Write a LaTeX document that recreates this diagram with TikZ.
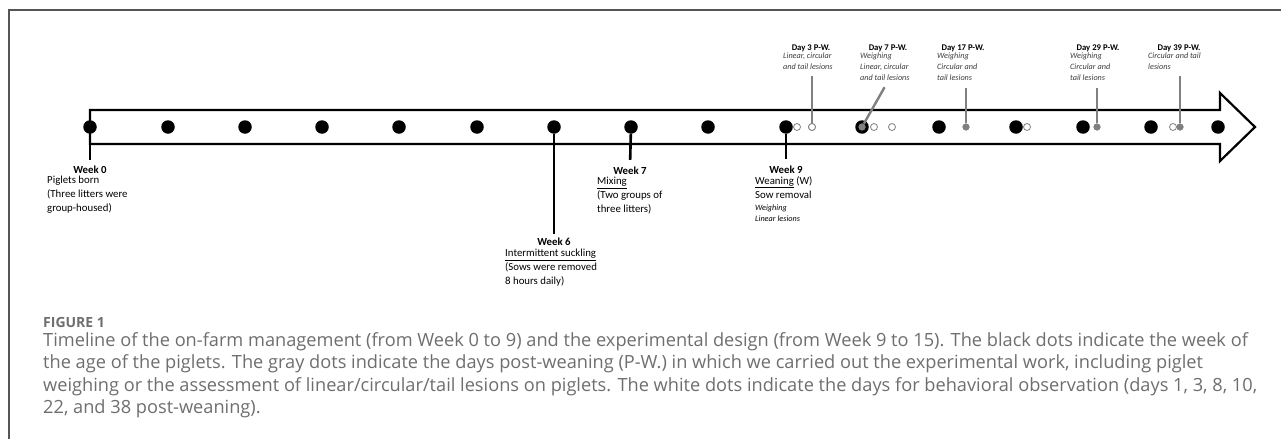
\documentclass[tikz,border=0pt]{standalone}
\usepackage{fontspec}
\setmainfont{Carlito}
\newfontfamily\capfont{Open Sans}
\usetikzlibrary{positioning, calc}
\definecolor{framegray}{RGB}{85,85,85}
\definecolor{dotgray}{RGB}{128,128,128}
\definecolor{captext}{RGB}{110,110,110}
\definecolor{daytext}{RGB}{60,60,60}
\tikzset{
    blackdot/.style={circle, fill=black, inner sep=0pt, minimum size=13.5pt},
    graydot/.style={circle, fill=dotgray, inner sep=0pt, minimum size=7pt},
    whitedot/.style={circle, draw=dotgray, fill=white, line width=0.8pt, inner sep=0pt, minimum size=7pt},
    arrowbody/.style={draw=black, line width=2.2pt, fill=white, line join=miter},
    weektick/.style={black, line width=2.6pt},
    daytick/.style={dotgray, line width=2.4pt},
    weektitle/.style={font=\fontsize{10.8}{14}\selectfont\bfseries, inner sep=1pt},
    weektext/.style={font=\fontsize{10.8}{14}\selectfont, align=left, inner sep=0pt, anchor=north west},
    daytitle/.style={font=\fontsize{8.7}{11}\selectfont\bfseries, inner sep=1pt},
    daytext/.style={font=\fontsize{8.2}{11}\selectfont\itshape, align=left, inner sep=0pt, anchor=north west, text=daytext}
}
\begin{document}
\begin{tikzpicture}[x=1pt, y=-1pt]
    \useasboundingbox (0,0) rectangle (1281,439);
    % Frame
    \draw[framegray, line width=1.5pt] (9,439) -- (9,10) -- (1281,10);

    % Timeline arrow
    \draw[arrowbody] (90,110) -- (1220,110) -- (1220,93) -- (1255,127) -- (1220,161) -- (1220,144) -- (90,144) -- cycle;

    % Week dots
    \foreach \x [count=\i from 0] in {90,168,245,322,399,477,554,631,708,786,862,939,1016,1083,1151,1218}
        \node[blackdot] (w\i) at (\x,127) {};

    % Days for behavioural observation
    \node[whitedot] (o1) at (797,127) {};
    \node[whitedot] (o3) at (812,127) {};
    \node[whitedot] (o8) at (874,127) {};
    \node[whitedot] (o10) at (892,127) {};
    \node[whitedot] (o22) at (1027,127) {};
    \node[whitedot] (o38) at (1173,127) {};

    % Days of experimental work
    \node[graydot] (g7) at (w10) {};
    \node[graydot] (g17) at (966,127) {};
    \node[graydot] (g29) at (1097,127) {};
    \node[graydot] (g39) at (1180,127) {};

    % Week labels
    \node[weektitle] (t0) at (90,170) {Week 0};
    \node[weektext] (b0) at (47,176) {Piglets born\\(Three litters were\\group-housed)};

    \node[weektitle] (t6) at (554,242) {Week 6};
    \node[weektext] (b6) at (505,249) {\underline{Intermittent suckling}\\(Sows were removed\\8 hours daily)};

    \node[weektitle] (t7) at (630,171) {Week 7};
    \node[weektext] (b7) at (597,177) {\underline{Mixing}\\(Two groups of\\three litters)};

    \node[weektitle] (t9) at (786,170) {Week 9};
    \node[weektext] (b9) at (755,176) {\underline{Weaning} (W)\\Sow removal};
    \node[daytext, text=black] (i9) at (755,205) {Weighing\\Linear lesions};

    % Day labels
    \node[daytitle] (d3t) at (811,48) {Day 3 P-W.};
    \node[daytext] (d3b) at (783,53) {Linear, circular\\and tail lesions};

    \node[daytitle] (d7t) at (888,48) {Day 7 P-W.};
    \node[daytext] (d7b) at (860,53) {Weighing\\Linear, circular\\and tail lesions};

    \node[daytitle] (d17t) at (963,48) {Day 17 P-W.};
    \node[daytext] (d17b) at (937,53) {Weighing\\Circular and\\tail lesions};

    \node[daytitle] (d29t) at (1098,48) {Day 29 P-W.};
    \node[daytext] (d29b) at (1070,53) {Weighing\\Circular and\\tail lesions};

    \node[daytitle] (d39t) at (1179,48) {Day 39 P-W.};
    \node[daytext] (d39b) at (1148,53) {Circular and tail\\lesions};

    % Ticks
    \draw[weektick, shorten >=5pt] (w0) -- (t0.north);
    \draw[weektick, shorten >=3pt] (w6) -- (t6.north);
    \draw[weektick, shorten >=6pt] (w7) -- (t7.north);
    \draw[weektick, shorten >=6pt] (w9) -- (t9.north);
    \draw[daytick, shorten >=6pt] (o3) -- (o3 |- d3b.south);
    \draw[daytick, shorten >=7pt] (g7) -- (d7t |- d7b.south);
    \draw[daytick, shorten >=7pt] (g17) -- (g17 |- d17b.south);
    \draw[daytick, shorten >=7pt] (g29) -- (g29 |- d29b.south);
    \draw[daytick, shorten >=6pt] (g39) -- (g39 |- d39b.south);
    \node[graydot] at (g7) {};
    \node[whitedot] at (o3) {};
    \node[graydot] at (g17) {};
    \node[graydot] at (g29) {};
    \node[graydot] at (g39) {};

    % Caption
    \node[font=\capfont\fontsize{14}{16}\selectfont\bfseries, text=captext, anchor=west, inner sep=0pt] (fig) at (43,322) {FIGURE 1};
    \node[font=\capfont\fontsize{18.2}{22.6}\selectfont, text=captext, align=left, anchor=north west, inner sep=0pt] (cap) at (43,332)
        {Timeline of the on-farm management (from Week 0 to 9) and the experimental design (from Week 9 to 15). The black dots indicate the week of\\
         the age of the piglets. The gray dots indicate the days post-weaning (P-W.) in which we carried out the experimental work, including piglet\\
         weighing or the assessment of linear/circular/tail lesions on piglets. The white dots indicate the days for behavioral observation (days 1, 3, 8, 10,\\
         22, and 38 post-weaning).};
\end{tikzpicture}
\end{document}
